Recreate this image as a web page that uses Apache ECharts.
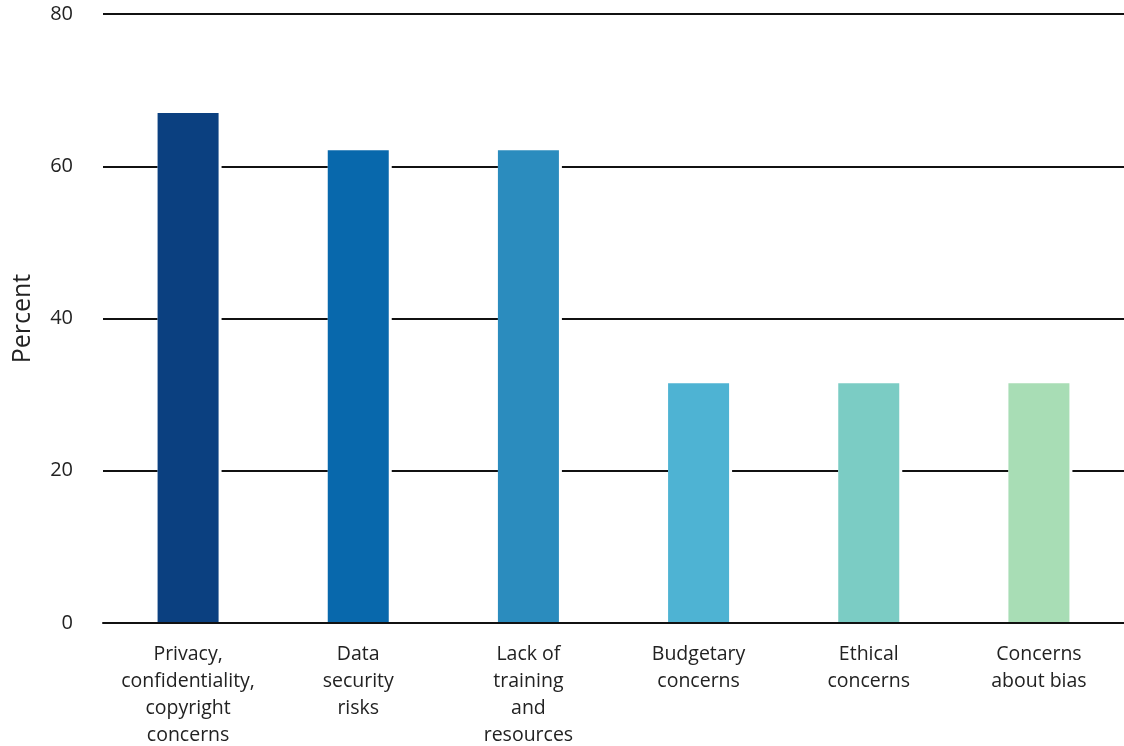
<!DOCTYPE html>
<html>
<head>
<meta charset="utf-8">
<style>
  html, body { margin: 0; padding: 0; background: #fff; }
  #chart { width: 1124px; height: 746px; }
</style>
<script src="https://cdn.jsdelivr.net/npm/echarts@6/dist/echarts.min.js"></script>
</head>
<body>
<div id="chart"></div>
<script>
// Reported barriers, share of respondents (%)
const categories = [
  'Privacy,\nconfidentiality,\ncopyright\nconcerns',
  'Data\nsecurity\nrisks',
  'Lack of\ntraining\nand\nresources',
  'Budgetary\nconcerns',
  'Ethical\nconcerns',
  'Concerns\nabout bias'
];
const values = [67, 62.1, 62.1, 31.5, 31.5, 31.5];
const barColors = ['#0b4080', '#0868ac', '#2b8cbe', '#4eb3d3', '#7bccc4', '#a8ddb5'];

const fontFamily = '"Open Sans", "Noto Sans", sans-serif';

const chart = echarts.init(document.getElementById('chart'), null, { renderer: 'canvas' });
chart.setOption({
  animation: false,
  backgroundColor: '#ffffff',
  grid: { left: 103, right: 0, top: 14, bottom: 123, containLabel: false, outerBoundsMode: 'none' },
  xAxis: {
    type: 'category',
    data: categories,
    z: 5,
    axisLine: { show: true, lineStyle: { color: '#111', width: 2 } },
    axisTick: { show: false },
    axisLabel: {
      interval: 0,
      margin: 18,
      color: '#222',
      fontSize: 19.5,
      lineHeight: 27,
      fontFamily: fontFamily,
      align: 'center',
      verticalAlign: 'top'
    }
  },
  yAxis: {
    type: 'value',
    min: 0,
    max: 80,
    interval: 20,
    name: 'Percent',
    nameLocation: 'middle',
    nameGap: 68,
    nameRotate: 90,
    nameTextStyle: { color: '#222', fontSize: 25, fontFamily: fontFamily },
    axisLine: { show: false },
    axisTick: { show: false },
    axisLabel: { color: '#222', fontSize: 20, margin: 30, fontFamily: fontFamily },
    splitLine: { show: true, lineStyle: { color: '#111', width: 2 } }
  },
  series: [
    {
      // white halo behind each bar, breaks the gridlines around it
      type: 'bar',
      barWidth: 64,
      barGap: '-100%',
      silent: true,
      data: values,
      itemStyle: { color: '#ffffff' },
      z: 2
    },
    {
      type: 'bar',
      barWidth: 61,
      barGap: '-100%',
      data: values.map((v, i) => ({ value: v, itemStyle: { color: barColors[i] } })),
      z: 3
    }
  ]
});
</script>
</body>
</html>
